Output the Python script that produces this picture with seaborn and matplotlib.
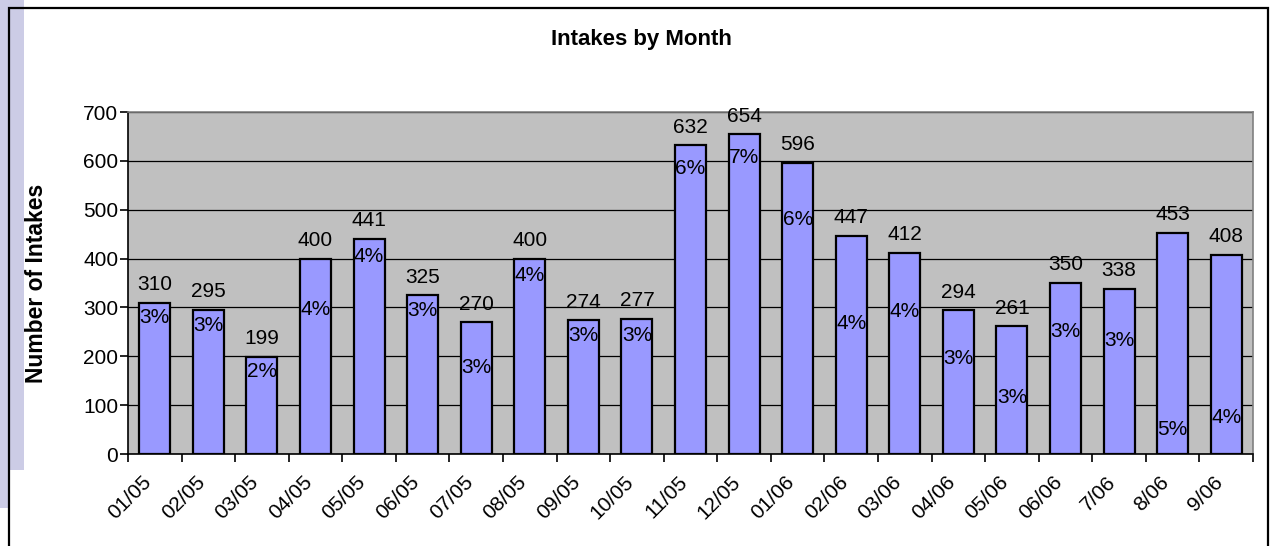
import matplotlib
matplotlib.use("Agg")
import matplotlib.pyplot as plt
from matplotlib.patches import Rectangle
from matplotlib.ticker import FixedLocator
from matplotlib.transforms import ScaledTranslation
import seaborn as sns
import pandas as pd

months = ["01/05", "02/05", "03/05", "04/05", "05/05", "06/05", "07/05",
          "08/05", "09/05", "10/05", "11/05", "12/05", "01/06", "02/06",
          "03/06", "04/06", "05/06", "06/06", "7/06", "8/06", "9/06"]
intakes = [310, 295, 199, 400, 441, 325, 270, 400, 274, 277, 632, 654,
           596, 447, 412, 294, 261, 350, 338, 453, 408]
pct = [3, 3, 2, 4, 4, 3, 3, 4, 3, 3, 6, 7, 6, 4, 4, 3, 3, 3, 3, 5, 4]
# where the percent labels sit (y in data units)
pct_y = [280, 262, 168, 295, 405, 293, 178, 366, 243, 243, 585, 606,
         479, 268, 291, 196, 115, 250, 233, 51, 74]

df = pd.DataFrame({"month": months, "intakes": intakes})

sns.set_style("white")
plt.rcParams["font.family"] = ["Liberation Sans", "DejaVu Sans"]
plt.rcParams["text.color"] = "black"
plt.rcParams["xtick.color"] = "black"
plt.rcParams["ytick.color"] = "black"
plt.rcParams["axes.labelcolor"] = "black"

fig = plt.figure(figsize=(12.71, 5.46), dpi=100)
ax = fig.add_axes([128 / 1271, 1 - 454 / 546, 1125 / 1271, 342 / 546])

# background decoration: lavender strip and chart border
fig.patches.append(Rectangle((0, 1 - 470 / 546), 24 / 1271, 470 / 546,
                             transform=fig.transFigure, facecolor="#CCCCE6",
                             edgecolor="none", zorder=0))
fig.patches.append(Rectangle((0, 1 - 508 / 546), 8 / 1271, 508 / 546,
                             transform=fig.transFigure, facecolor="#CCCCE6",
                             edgecolor="none", zorder=0))
fig.patches.append(Rectangle((8.5 / 1271, -0.05), 1259 / 1271, 1.05 - 8.5 / 546,
                             transform=fig.transFigure, facecolor="none",
                             edgecolor="black", linewidth=1.6, zorder=1))

ax.set_facecolor("#C0C0C0")
sns.barplot(data=df, x="month", y="intakes", color="#9999FF", saturation=1,
            edgecolor="black", linewidth=1.6, width=0.58, ax=ax, zorder=3)

ax.set_ylim(0, 700)
ax.set_xlim(-0.5, len(months) - 0.5)
ax.set_yticks(range(0, 701, 100))
ax.yaxis.grid(True, color="black", linewidth=0.9)
ax.set_axisbelow(True)

for s in ["left", "bottom"]:
    ax.spines[s].set_color("black")
    ax.spines[s].set_linewidth(1.2)
for s in ["top", "right"]:
    ax.spines[s].set_color("#808080")
    ax.spines[s].set_linewidth(1.2)

ax.tick_params(axis="y", direction="out", length=6, width=1.2, color="black",
               labelsize=15, pad=1, left=True)
ax.tick_params(axis="x", which="major", length=0, labelsize=15, pad=8)
ax.xaxis.set_minor_locator(FixedLocator([i - 0.5 for i in range(len(months) + 1)]))
ax.tick_params(axis="x", which="minor", direction="out", length=6, width=1.2,
               color="black", bottom=True)
shift = ScaledTranslation(-13 / 100, -7 / 100, fig.dpi_scale_trans)
for lab in ax.get_xticklabels():
    lab.set_rotation(45)
    lab.set_ha("right")
    lab.set_rotation_mode("anchor")
    lab.set_transform(lab.get_transform() + shift)

for i, v in enumerate(intakes):
    ax.annotate(str(v), (i, v), xytext=(0, 9), textcoords="offset points",
                ha="center", va="baseline", fontsize=15, zorder=5)
    ax.text(i, pct_y[i], f"{pct[i]}%", ha="center", va="center",
            fontsize=15, zorder=5)

ax.set_xlabel("")
ax.set_ylabel("Number of Intakes", fontsize=16.5, fontweight="bold")
ax.yaxis.set_label_coords(-0.071, 0.5)

fig.text(641 / 1271, 1 - 39 / 546, "Intakes by Month", ha="center", va="center",
         fontsize=16, fontweight="bold")

fig.savefig("out.png", dpi=100)
